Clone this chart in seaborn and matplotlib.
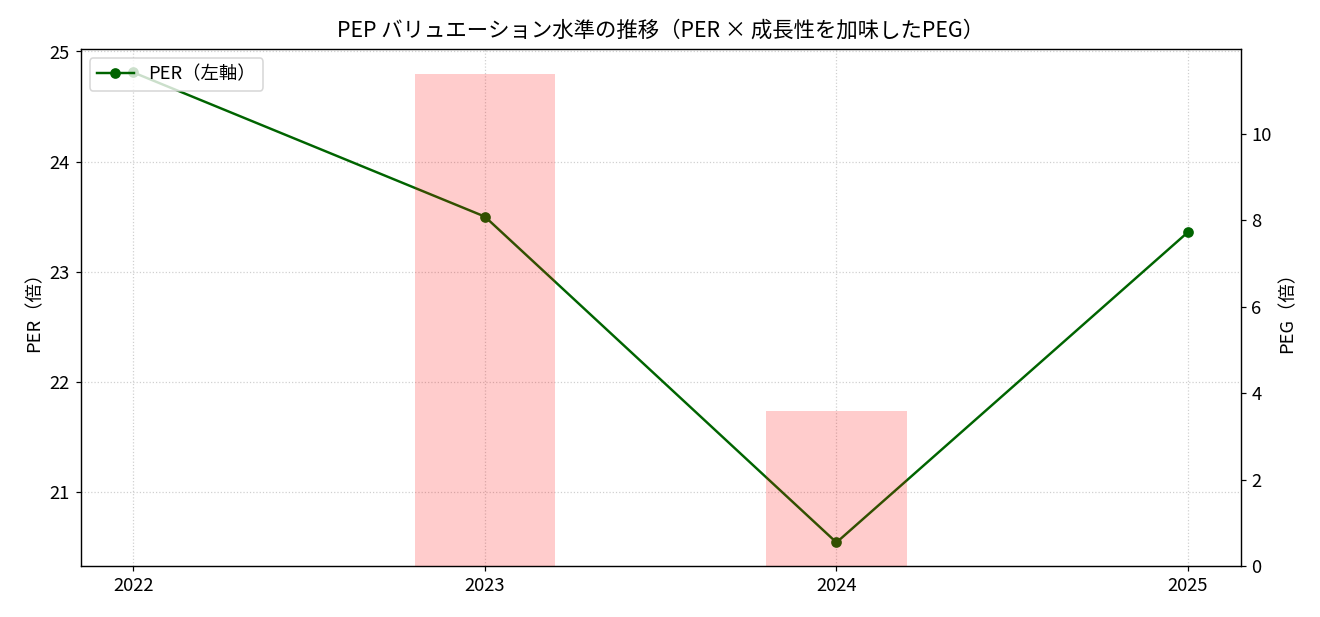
import matplotlib
matplotlib.use("Agg")
import matplotlib.pyplot as plt
import seaborn as sns
import pandas as pd
import numpy as np

years = [2022, 2023, 2024, 2025]
per_values = [24.81, 23.50, 20.54, 23.36]
peg_values = [np.nan, 11.40, 3.59, np.nan]
xtick_labels = ["2022", "2023", "2024", "2025"]

plt.rcParams['font.family'] = ['Noto Sans CJK JP', 'DejaVu Sans']

df = pd.DataFrame({"year": years, "PER": per_values, "PEG": peg_values})

fig, ax1 = plt.subplots(figsize=(12, 5.61), dpi=110)
sns.lineplot(data=df, x="year", y="PER", ax=ax1, color="darkgreen", marker="o",
             markersize=7, markeredgewidth=0, linewidth=1.6, label="PER（左軸）")
ax1.set_ylabel("PER（倍）", fontsize=12)
ax1.set_xlabel("")
ax1.set_xticks(years)
ax1.set_xticklabels(xtick_labels)
ax1.grid(True, linestyle=":", alpha=0.6)
ax1.tick_params(labelsize=12)

ax2 = ax1.twinx()
bar_df = df.dropna(subset=["PEG"])
ax2.bar(bar_df["year"], bar_df["PEG"], width=0.4, color="red", alpha=0.2)
ax2.set_ylabel("PEG（倍）", fontsize=12)
ax2.tick_params(labelsize=12)

ax1.legend(loc="upper left", fontsize=12)
ax1.set_title("PEP バリュエーション水準の推移（PER × 成長性を加味したPEG）", fontsize=14, pad=8)

fig.subplots_adjust(left=0.061, right=0.940, top=0.9206, bottom=0.0827)
fig.savefig("out.png", dpi=110)
